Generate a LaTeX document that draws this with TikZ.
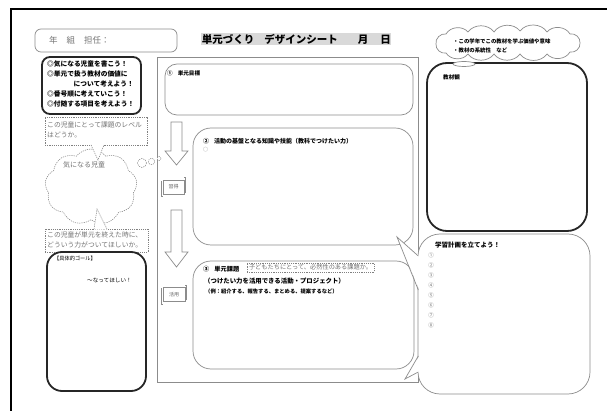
\documentclass[tikz,border=0pt]{standalone}
\usepackage{fontspec}
\setmainfont{Noto Sans CJK JP}
\usetikzlibrary{shapes.symbols}
\newcommand\myfs[1]{\fontsize{#1}{#1}\selectfont}
\begin{document}
\begin{tikzpicture}[x=1pt,y=-1pt,
  gline/.style={draw=black!45, line width=0.7pt},
  gbox/.style={gline, fill=white, inner sep=0pt, outer sep=0pt, rounded corners=#1},
  gbox/.default=12pt,
  kbox/.style={draw=black!85, line width=1.8pt, fill=white, inner sep=0pt, outer sep=0pt, rounded corners=#1},
  kbox/.default=12pt,
  dline/.style={draw=black!50, line width=0.5pt, dash pattern=on 1.2pt off 1pt},
  dbox/.style={dline, fill=white, inner sep=0pt, outer sep=0pt},
  txt/.style={inner sep=0pt, anchor=west, text=black},
  gtxt/.style={txt, text=black!55},
  scrollbox/.style={gline, fill=white, inner sep=0pt, outer sep=0pt, font=\myfs{5}, text=black!60},
  puff/.style={bend left=55},
]
\useasboundingbox (0,0) rectangle (607,411);
\fill[white] (0,0) rectangle (607,411);
% outer frame
\draw[line width=1.4pt] (11,411) -- (11,9) -- (607,9);

% header
\node[gbox=6pt, minimum width=142pt, minimum height=23pt] (nk) at (106,40.5) {};
\node[gtxt, font=\myfs{8.5}] (nkt) at (49,40.5) {年\hspace{9pt}組\hspace{9pt}担任：};
\node[fill=black!15, inner sep=0.6pt, font=\bfseries\myfs{10.5}, anchor=west] (title) at (201,39) {単元づくり\hspace{10pt}デザインシート\hspace{20pt}月\hspace{12pt}日};

% left thick box
\node[kbox=8pt, minimum width=99pt, minimum height=57pt] (lk) at (91.5,85.5) {};
\node[txt, font=\bfseries\myfs{6.7}] (lk1) at (47,64.3) {◎気になる児童を書こう！};
\node[txt, font=\bfseries\myfs{6.7}] (lk2) at (47,73.8) {◎単元で扱う教材の価値に};
\node[txt, font=\bfseries\myfs{6.7}, anchor=east] (lk3) at (134,84) {について考えよう！};
\node[txt, font=\bfseries\myfs{6.7}] (lk4) at (47,94) {◎番号順に考えていこう！};
\node[txt, font=\bfseries\myfs{6.7}] (lk5) at (47,103.5) {◎付随する項目を考えよう！};

% main frame
\node[gline, fill=white, inner sep=0pt, outer sep=0pt, minimum width=261pt, minimum height=325pt] (mf) at (287.5,219.5) {};

% box 1
\node[gbox=12pt, minimum width=248pt, minimum height=51pt] (b1) at (289,89.5) {};
\node[txt, font=\bfseries\myfs{5.6}] (b1t) at (167,73) {①\hspace{5pt}単元目標};

% arrows
\draw[gline, fill=white] (171,122) -- (182,122) -- (182,151) -- (188,151) -- (176.5,165) -- (165,151) -- (171,151) -- cycle;
\draw[gline, fill=white] (171,210) -- (182,210) -- (182,252) -- (188,252) -- (176.5,267) -- (165,252) -- (171,252) -- cycle;

% scrolls
\node[scrollbox, minimum width=21pt, minimum height=14pt] (s1) at (173.5,187) {習得};
\draw[gline] ([xshift=-1.6pt,yshift=-1pt]s1.north west) -- ([xshift=-1.6pt,yshift=-2.5pt]s1.south west) -- ([yshift=-2.5pt]s1.south west);
\draw[gline] ([xshift=1.6pt,yshift=1pt]s1.south east) -- ([xshift=1.6pt,yshift=2.5pt]s1.north east) -- ([yshift=2.5pt]s1.north east);
\node[scrollbox, minimum width=22pt, minimum height=14pt] (s2) at (174,294.5) {活用};
\draw[gline] ([xshift=-1.6pt,yshift=-1pt]s2.north west) -- ([xshift=-1.6pt,yshift=-2.5pt]s2.south west) -- ([yshift=-2.5pt]s2.south west);
\draw[gline] ([xshift=1.6pt,yshift=1pt]s2.south east) -- ([xshift=1.6pt,yshift=2.5pt]s2.north east) -- ([yshift=2.5pt]s2.north east);

% box 2
\node[gbox=18pt, minimum width=220pt, minimum height=117pt] (b2) at (303,186.5) {};
\node[txt, font=\bfseries\myfs{6}] (b2t) at (203,141) {②\hspace{5pt}活動の基盤となる知識や技能（教科でつけたい力）};
\node[gtxt, font=\myfs{5}] (b2c) at (203,150) {○};

% box 3
\node[gbox=18pt, minimum width=221pt, minimum height=108pt] (b3) at (303.5,315) {};
\node[txt, font=\bfseries\myfs{6.2}] (b3t) at (203,269) {③\hspace{5pt}単元課題};
\node[dbox, inner xsep=2pt, inner ysep=1.5pt, anchor=west, font=\myfs{6.2}, text=black!55] (kadai) at (247,267.5) {子どもたちにとって、必然性のある課題か。};
\node[txt, font=\bfseries\myfs{6.4}] (b3a) at (204,281) {（つけたい力を活用できる活動・プロジェクト）};
\node[txt, font=\bfseries\myfs{5.3}] (b3b) at (205,291) {（例：紹介する、報告する、まとめる、提案するなど）};

% material box
\node[kbox=20pt, minimum width=160pt, minimum height=168pt] (kz) at (507,147) {};
\node[txt, font=\bfseries\myfs{5.6}] (kzt) at (443,77) {教材観};
% top-right cloud (drawn as puffs)
\draw[gline, fill=white] (436,44) to[puff] (446,34) to[puff] (468,32) to[puff] (494,32)
  to[puff] (520,31) to[puff] (547,32) to[puff] (570,34) to[puff] (580,43)
  to[puff] (570,52) to[puff] (547,54) to[puff] (520,54) to[puff] (494,54)
  to[puff] (468,54) to[puff] (446,53) to[puff] cycle;
\draw[gline, fill=white] (464,64) ellipse [x radius=11, y radius=2.5];
\node[txt, font=\bfseries\myfs{5.4}] (c2a) at (453,41) {・この学年でこの教材を学ぶ価値や意味};
\node[txt, font=\bfseries\myfs{5.4}] (c2b) at (453,50) {・教材の系統性　など};

% plan box with callout pointers
\node[gbox=22pt, minimum width=172pt, minimum height=160pt] (pl) at (504,314) {};
\fill[white] (419.5,256) -- (397,237) -- (419.5,290) -- cycle;
\draw[gline] (418.3,256) -- (397,237) -- (418.3,290);
\fill[white] (419.5,356) -- (405,379) -- (419.5,372) -- cycle;
\draw[gline] (418.3,356) -- (405,379) -- (418.3,372);
\node[txt, font=\bfseries\myfs{6.5}] (plt) at (435,245) {学習計画を立てよう！};
\foreach \i/\n in {0/①,1/②,2/③,3/④,4/⑤,5/⑥,6/⑦,7/⑧}
  \node[text=black!55, inner sep=0pt, font=\myfs{5.5}] (pn\i) at (431,255+10.1*\i) {\n};

% left cloud
\node[cloud, cloud puffs=9, cloud puff arc=105, cloud ignores aspect, dbox, minimum width=92pt, minimum height=76pt] (c1) at (91,187) {};
\node[text=black!55, inner sep=0pt, font=\myfs{7}] (c1t) at (84,165) {気になる児童};
\draw[dline, fill=white] (142,163) circle [radius=4.5];
\draw[dline, fill=white] (151.5,161.5) circle [radius=3.2];
\draw[dline, fill=white] (159,158.5) circle [radius=2];

% dashed boxes
\node[dbox, minimum width=102pt, minimum height=28pt] (d1) at (96,131) {};
\fill[white] (91,144.4) -- (98,160) -- (104,144.4) -- cycle;
\draw[dline] (91,145) -- (98,160) -- (104,145);
\node[gtxt, font=\myfs{6.8}] (d1a) at (47,124.5) {この児童にとって課題のレベル};
\node[gtxt, font=\myfs{6.8}] (d1b) at (47,134.5) {はどうか。};

\node[dbox, minimum width=103pt, minimum height=23pt] (d2) at (96.5,240.5) {};
\fill[white] (94,229.6) -- (97,209) -- (107,229.6) -- cycle;
\draw[dline] (94,229) -- (97,209) -- (107,229);
\node[gtxt, font=\myfs{6.8}] (d2a) at (47,235) {この児童が単元を終えた時に、};
\node[gtxt, font=\myfs{6.8}] (d2b) at (47,244.5) {どういう力がついてほしいか。};

% goal box
\node[kbox=15pt, minimum width=99pt, minimum height=139pt] (goal) at (96.5,321.5) {};
\node[txt, font=\myfs{5.2}] (g1) at (54,259) {【具体的ゴール】};
\node[txt, font=\myfs{5.6}] (g2) at (87,280) {～なってほしい！};
\end{tikzpicture}
\end{document}
